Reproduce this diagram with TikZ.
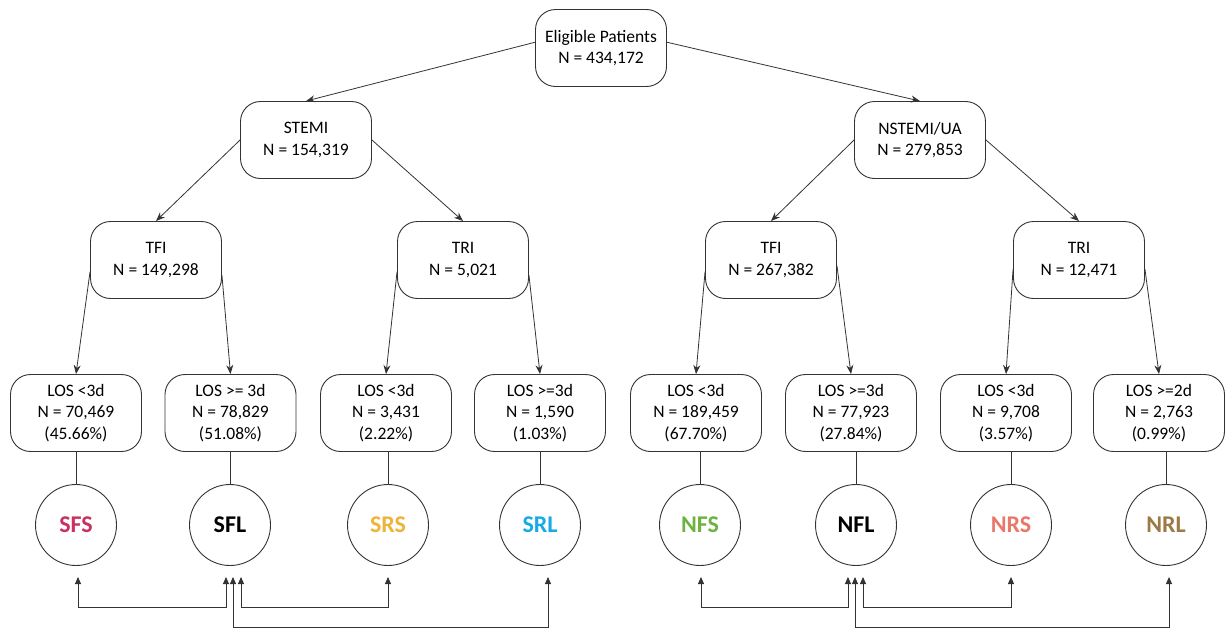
\documentclass[tikz,border=0pt]{standalone}
\usepackage{fontspec}
\setmainfont{Carlito}
\usetikzlibrary{arrows.meta}
\definecolor{lineC}{HTML}{333333}
\definecolor{cSFS}{HTML}{C8325F}
\definecolor{cSRS}{HTML}{EEB43A}
\definecolor{cSRL}{HTML}{18AAE6}
\definecolor{cNFS}{HTML}{6CB33F}
\definecolor{cNRS}{HTML}{E8786A}
\definecolor{cNRL}{HTML}{9C7A45}
\begin{document}
\begin{tikzpicture}[x=1pt,y=-1pt,
  box/.style={draw=lineC, line width=0.9pt, rounded corners=20pt, minimum width=131pt, minimum height=77pt, align=center, inner sep=0pt, font=\fontsize{17.5}{21.5}\selectfont},
  circ/.style={draw=lineC, line width=0.9pt, circle, minimum size=81pt, inner sep=0pt, font=\bfseries\fontsize{24}{26}\selectfont},
  arr/.style={draw=lineC, line width=0.8pt, -{Stealth[length=9pt,width=7pt]}},
  link/.style={draw=lineC, line width=0.9pt},
  biarr/.style={draw=lineC, line width=0.9pt, {Triangle[length=7pt,width=6pt]}-{Triangle[length=7pt,width=6pt]}}
]
\useasboundingbox (0,0) rectangle (1228,629);

\node[box] (E) at (601,48) {Eligible Patients\\N = 434,172};
\node[box] (S) at (306,140) {STEMI\\N = 154,319};
\node[box] (NS) at (920,140) {NSTEMI/UA\\N = 279,853};
\node[box] (SF) at (156,260) {TFI\\N = 149,298};
\node[box] (SR) at (463,260) {TRI\\N = 5,021};
\node[box] (NF) at (771,260) {TFI\\N = 267,382};
\node[box] (NR) at (1079,260) {TRI\\N = 12,471};

\node[box] (L1) at (76,413) {LOS <3d\\N = 70,469\\(45.66\%)};
\node[box] (L2) at (230.5,413) {LOS >= 3d\\N = 78,829\\(51.08\%)};
\node[box] (L3) at (386,413) {LOS <3d\\N = 3,431\\(2.22\%)};
\node[box] (L4) at (540,413) {LOS >=3d\\N = 1,590\\(1.03\%)};
\node[box] (L5) at (696,413) {LOS <3d\\N = 189,459\\(67.70\%)};
\node[box] (L6) at (851,413) {LOS >=3d\\N = 77,923\\(27.84\%)};
\node[box] (L7) at (1006,413) {LOS <3d\\N = 9,708\\(3.57\%)};
\node[box] (L8) at (1159,413) {LOS >=2d\\N = 2,763\\(0.99\%)};

\node[circ, text=cSFS] (C1) at (76,525) {SFS};
\node[circ] (C2) at (230,525) {SFL};
\node[circ, text=cSRS] (C3) at (388,525) {SRS};
\node[circ, text=cSRL] (C4) at (540,525) {SRL};
\node[circ, text=cNFS] (C5) at (700,525) {NFS};
\node[circ] (C6) at (856,525) {NFL};
\node[circ, text=cNRS] (C7) at (1011,525) {NRS};
\node[circ, text=cNRL] (C8) at (1166,525) {NRL};

% tree arrows
\draw[arr] (E.175) -- (S.north);
\draw[arr] (E.5) -- (NS.north);
\draw[arr] (S.west) -- (SF.north);
\draw[arr] (S.east) -- (SR.north);
\draw[arr] (NS.west) -- (NF.north);
\draw[arr] (NS.east) -- (NR.north);
\draw[arr] (SF.190) -- (L1.north);
\draw[arr] (SF.347) -- (L2.north);
\draw[arr] (SR.190) -- (L3.north);
\draw[arr] (SR.347) -- (L4.north);
\draw[arr] (NF.190) -- (L5.north);
\draw[arr] (NF.355) -- (L6.north);
\draw[arr] (NR.188) -- (L7.north);
\draw[arr] (NR.352) -- (L8.north);

% box to circle links
\foreach \i in {1,...,8}{
  \draw[link] (C\i.north) -- (C\i.north |- L\i.south);
}

% bottom comparison connectors
\coordinate (hA) at (0,607);
\coordinate (hB) at (0,627);
\coordinate (t1) at (78,577);
\coordinate (t2a) at (226,577);
\coordinate (t2b) at (233,577);
\coordinate (t2c) at (241,577);
\coordinate (t3) at (388,577);
\coordinate (t4) at (548,577);
\coordinate (t5) at (701,577);
\coordinate (t6a) at (848,577);
\coordinate (t6b) at (855,577);
\coordinate (t6c) at (863,577);
\coordinate (t7) at (1011,577);
\coordinate (t8) at (1169,577);

\draw[biarr] (t1) -- (t1 |- hA) -| (t2a);
\draw[biarr] (t2c) -- (t2c |- hA) -| (t3);
\draw[biarr] (t2b) -- (t2b |- hB) -| (t4);
\draw[biarr] (t5) -- (t5 |- hA) -| (t6a);
\draw[biarr] (t6c) -- (t6c |- hA) -| (t7);
\draw[biarr] (t6b) -- (t6b |- hB) -| (t8);
\end{tikzpicture}
\end{document}
